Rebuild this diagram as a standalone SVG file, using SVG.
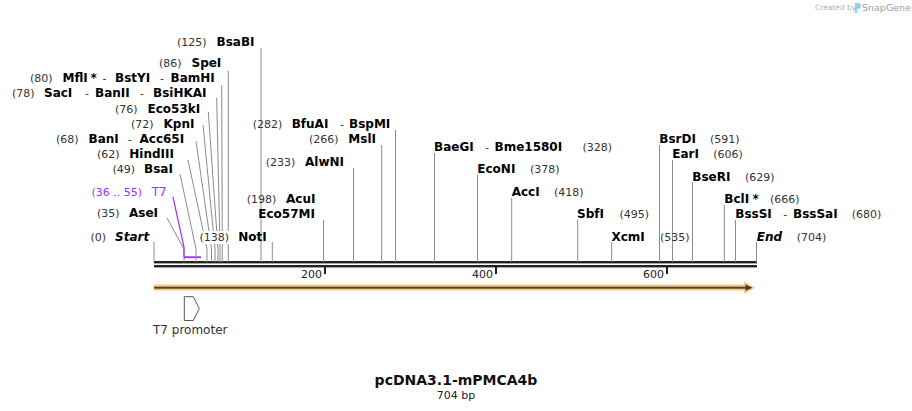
<svg xmlns="http://www.w3.org/2000/svg" width="912" height="411" viewBox="0 0 912 411">
<style>
text{font-family:"DejaVu Sans","Verdana",sans-serif}
.n{font-size:11px;fill:#333}
.e{font-size:12px;font-weight:bold;fill:#000}
.i{font-style:italic}
.d{font-size:12px;fill:#333}
.t{font-size:11px;fill:#222}
.site{stroke:#8c8c8c;stroke-width:1;fill:none}
.psite{stroke:#9933ff;stroke-width:1.2;fill:none}
</style>
<rect width="912" height="411" fill="#fff"/>

<!-- watermark -->
<g id="watermark">
<text x="815" y="10" style="font-size:7.5px;fill:#b0b0b0">Created by</text>
<path d="M855,3 h3 a3,3 0 0 1 0,6 h-1 v4 h-2 z" fill="#8fd0f0"/>
<text x="862" y="11" style="font-size:9.5px;fill:#a0a0a0">SnapGene</text>
</g>

<!-- map -->
<g id="map">
<rect x="154" y="261" width="603" height="2.4" fill="#222"/>
<rect x="154" y="265" width="603" height="2.4" fill="#222"/>
<rect x="324" y="267" width="2" height="7" fill="#222"/>
<rect x="495" y="267" width="2" height="7" fill="#222"/>
<rect x="666" y="267" width="2" height="7" fill="#222"/>
<text class="t" x="322" y="278" text-anchor="end">200</text>
<text class="t" x="493" y="278" text-anchor="end">400</text>
<text class="t" x="664" y="278" text-anchor="end">600</text>
</g>

<!-- feature bar -->
<g id="feature-bar">
<rect x="154" y="284.5" width="594" height="6" fill="#fdc978"/>
<polygon points="744,281.5 755,287.7 744,294" fill="#fdc978"/>
<rect x="154" y="286.7" width="593" height="2" fill="#444"/>
<polygon points="745.5,284.3 752.5,287.7 745.5,291.1" fill="#444"/>
</g>

<!-- T7 promoter -->
<g id="t7-promoter">
<polygon points="184.3,296.7 193.3,296.7 199.3,308.5 193.3,320.5 184.3,320.5" fill="#fff" stroke="#555" stroke-width="1"/>
<text class="d" x="153" y="334">T7 promoter</text>
</g>

<!-- connectors -->
<g id="connectors">
<polyline class="site" points="154,242 154,262"/>
<polyline class="site" points="167,218 184,249 184,262"/>
<polyline class="psite" points="173,197 184,247 184,257"/>
<rect x="184" y="256.3" width="17" height="1.8" fill="#9933ff"/>
<polyline class="site" points="180,174 196,249 196,262"/>
<polyline class="site" points="188,160 207,249 207,262"/>
<polyline class="site" points="196,141 211.5,249 211.5,262"/>
<polyline class="site" points="203,125 215,249 215,262"/>
<polyline class="site" points="208.3,112 218,249 218,262"/>
<polyline class="site" points="216.7,98 220,249 220,262"/>
<polyline class="site" points="221.7,85 222.3,249 222.3,262"/>
<polyline class="site" points="228.3,71 228.3,262"/>
<polyline class="site" points="261,48 261,262"/>
<polyline class="site" points="272.3,242 272.3,262"/>
<polyline class="site" points="323.5,220 323.5,262"/>
<polyline class="site" points="353.5,168 353.5,262"/>
<polyline class="site" points="381.7,145 381.7,262"/>
<polyline class="site" points="395.5,130 395.5,262"/>
<polyline class="site" points="434.5,153 434.5,262"/>
<polyline class="site" points="477.5,175 477.5,262"/>
<polyline class="site" points="511.7,198 511.7,262"/>
<polyline class="site" points="577.7,220 577.7,262"/>
<polyline class="site" points="611.7,242 611.7,262"/>
<polyline class="site" points="659.5,145 659.5,262"/>
<polyline class="site" points="672.5,160 672.5,262"/>
<polyline class="site" points="692.5,182 692.5,262"/>
<polyline class="site" points="724.3,205 724.3,262"/>
<polyline class="site" points="735.5,220 735.5,262"/>
<polyline class="site" points="756.5,242 756.5,262"/>
</g>

<!-- site labels -->
<g id="site-bsabi"><text class="n" x="177" y="46">(125)</text><text class="e" x="216.5" y="46">BsaBI</text></g>
<g id="site-spei"><text class="n" x="159" y="67">(86)</text><text class="e" x="191.5" y="67">SpeI</text></g>
<g id="site-mfli"><text class="n" x="30" y="82">(80)</text><text class="e" x="62.5" y="82">MflI</text><text class="e" x="90.5" y="82">*</text><text class="n" x="102.5" y="82">-</text><text class="e" x="115" y="82">BstYI</text><text class="n" x="160" y="82">-</text><text class="e" x="170.5" y="82">BamHI</text></g>
<g id="site-saci"><text class="n" x="12" y="97">(78)</text><text class="e" x="44" y="97">SacI</text><text class="n" x="85" y="97">-</text><text class="e" x="95" y="97">BanII</text><text class="n" x="140" y="97">-</text><text class="e" x="153" y="97">BsiHKAI</text></g>
<g id="site-eco53ki"><text class="n" x="115" y="113">(76)</text><text class="e" x="147.5" y="113">Eco53kI</text></g>
<g id="site-kpni"><text class="n" x="131" y="128">(72)</text><text class="e" x="163.5" y="128">KpnI</text></g>
<g id="site-bani"><text class="n" x="56" y="143">(68)</text><text class="e" x="88.5" y="143">BanI</text><text class="n" x="128" y="143">-</text><text class="e" x="139.5" y="143">Acc65I</text></g>
<g id="site-hindiii"><text class="n" x="97" y="158">(62)</text><text class="e" x="129.3" y="158">HindIII</text></g>
<g id="site-bsai"><text class="n" x="112.5" y="173">(49)</text><text class="e" x="144" y="173">BsaI</text></g>
<g id="site-t7"><text class="n" x="91.5" y="196" style="fill:#9933ff">(36 .. 55)</text><text class="d" x="151.7" y="196" style="fill:#9933ff">T7</text></g>
<g id="site-asei"><text class="n" x="97" y="217">(35)</text><text class="e" x="129" y="217">AseI</text></g>
<g id="site-start"><text class="n" x="90.5" y="241">(0)</text><text class="e i" x="115" y="241">Start</text></g>
<g id="site-noti"><rect x="199" y="231" width="32" height="13" fill="#fff"/><text class="n" x="199.5" y="241">(138)</text><text class="e" x="238.3" y="241">NotI</text></g>
<g id="site-acui"><text class="n" x="246.7" y="203">(198)</text><text class="e" x="286" y="203">AcuI</text><text class="e" x="258.3" y="218">Eco57MI</text></g>
<g id="site-alwni"><text class="n" x="265.7" y="166">(233)</text><text class="e" x="305" y="166">AlwNI</text></g>
<g id="site-msli"><text class="n" x="309" y="143">(266)</text><text class="e" x="348.3" y="143">MslI</text></g>
<g id="site-bfuai"><text class="n" x="252.7" y="128">(282)</text><text class="e" x="291.7" y="128">BfuAI</text><text class="n" x="340" y="128">-</text><text class="e" x="349" y="128">BspMI</text></g>
<g id="site-baegi"><text class="e" x="434" y="151">BaeGI</text><text class="n" x="485" y="151">-</text><text class="e" x="494.5" y="151">Bme1580I</text><text class="n" x="582.5" y="151">(328)</text></g>
<g id="site-econi"><text class="e" x="477.3" y="173">EcoNI</text><text class="n" x="530" y="173">(378)</text></g>
<g id="site-acci"><text class="e" x="511.7" y="196">AccI</text><text class="n" x="554" y="196">(418)</text></g>
<g id="site-sbfi"><text class="e" x="577" y="218">SbfI</text><text class="n" x="619.5" y="218">(495)</text></g>
<g id="site-xcmi"><text class="e" x="611.5" y="241">XcmI</text><text class="n" x="660" y="241">(535)</text></g>
<g id="site-bsrdi"><text class="e" x="659.3" y="143">BsrDI</text><text class="n" x="710" y="143">(591)</text></g>
<g id="site-eari"><text class="e" x="672.3" y="158">EarI</text><text class="n" x="713.3" y="158">(606)</text></g>
<g id="site-bseri"><text class="e" x="692.3" y="181">BseRI</text><text class="n" x="745" y="181">(629)</text></g>
<g id="site-bcli"><text class="e" x="724.3" y="203">BclI</text><text class="e" x="752.5" y="203">*</text><text class="n" x="770" y="203">(666)</text></g>
<g id="site-bsssi"><text class="e" x="735.3" y="218">BssSI</text><text class="n" x="783.3" y="218">-</text><text class="e" x="793" y="218">BssSaI</text><text class="n" x="851.7" y="218">(680)</text></g>
<g id="site-end"><text class="e i" x="756.7" y="241">End</text><text class="n" x="796.7" y="241">(704)</text></g>

<!-- title -->
<g id="title">
<text x="456" y="385" text-anchor="middle" style="font-size:14px;font-weight:bold;fill:#111">pcDNA3.1-mPMCA4b</text>
<text x="456" y="399" text-anchor="middle" style="font-size:11px;fill:#222">704 bp</text>
</g>
</svg>
